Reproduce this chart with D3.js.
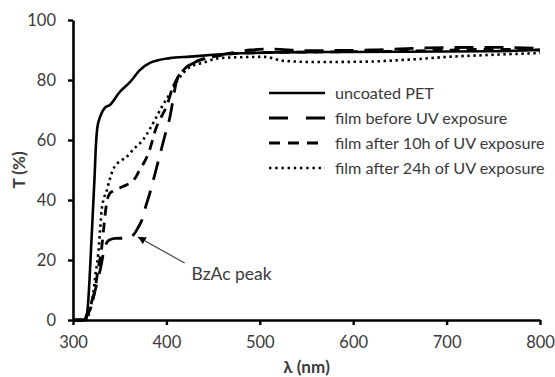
<!DOCTYPE html>
<html>
<head>
<meta charset="utf-8">
<script src="https://cdn.jsdelivr.net/npm/d3@7"></script>
<style>
  body { margin: 0; background: #fff; }
  svg text { font-family: Lato, "Open Sans", sans-serif; fill: #3a3a3a; }
</style>
</head>
<body>
<div id="chart"></div>
<script>
// transmission spectra, [wavelength nm, T %]
const uncoatedPET = [[300,0],[314,0],[316,5],[320,28],[323,47],[324.5,58],[326,64],[329,67.7],[334,70.7],
  [339.5,71.7],[350,76],[361,79.3],[371.6,83.3],[382.3,85.7],[403.6,87.3],[425,87.8],[480,88.9],
  [550,89.3],[650,89.4],[750,89.6],[800,90]];
const filmBefore = [[300,0],[312,0],[316,3],[322,8],[327,14],[330,18],[333,23],[338,26.5],[345,27.2],
  [358,27.3],[365,28.5],[370,31],[374,33.5],[378,38],[382,42],[388,49],[393,55],[398,61],[404,68],
  [408,75],[411,80],[416,82.5],[423,84.5],[435,86.5],[450,88],[470,89],[490,90],[510,90.3],
  [550,89.8],[620,90],[680,90.7],[750,90.9],[800,90.5]];
const film10h = [[300,0],[313,0],[316,2],[320,5],[324,11],[326.7,16.7],[330.7,24],[333,31],[336,39],
  [339,42],[343,43],[350,44],[357,45],[363,46],[368,48],[372,50.5],[377,53],[382,56.7],[389,64],
  [395,68],[400,71],[407,77.7],[414,81.5],[421.5,84.3],[440,87],[460,88.3],[480,89],[550,89.3],
  [650,89.6],[750,90.2],[800,90]];
const film24h = [[300,0],[314,0],[317,2],[320,6],[321.7,9],[324,15],[327,22],[329,30],[330.7,36.7],
  [333,40.5],[336,43],[339,46.5],[342.7,50],[347,52],[352,53.3],[357,54.3],[365,57],[374.8,60],
  [382,63.5],[389.4,67.7],[395,71],[401.5,74.3],[407,77],[412.2,80],[418,82.3],[425,84.3],
  [438.9,85.7],[457,87.3],[480,87.6],[505,87.7],[525,86.4],[560,86],[610,86.1],[660,86.8],
  [706,87.8],[750,88.4],[800,89]];

const seriesNames = ["uncoated PET", "film before UV exposure", "film after 10h of UV exposure", "film after 24h of UV exposure"];
const xTicks = [300, 400, 500, 600, 700, 800];
const yTicks = [0, 20, 40, 60, 80, 100];
// annotation: arrow tip, arrow tail, label
const peakTip = [369.5, 27.7];
const peakTail = [419.5, 19];
const peakLabel = "BzAc peak";

const width = 555, height = 377;
const margin = {top: 20, right: 15, bottom: 57, left: 73};

const svg = d3.select("#chart").append("svg")
    .attr("width", width)
    .attr("height", height);

const x = d3.scaleLinear().domain([300, 800]).range([margin.left, width - margin.right]);
const y = d3.scaleLinear().domain([0, 100]).range([height - margin.bottom, margin.top]);

const styles = [
  {data: uncoatedPET, dash: null, w: 2.6},
  {data: filmBefore, dash: "19,11", w: 2.8},
  {data: film10h, dash: "10,7", w: 2.8},
  {data: film24h, dash: "2.4,3.6", w: 2.6}
];

const line = d3.line()
    .x(d => x(d[0]))
    .y(d => y(d[1]))
    .curve(d3.curveMonotoneX);

svg.selectAll("path.series")
  .data(styles)
  .enter()
  .append("path")
    .attr("class", "series")
    .attr("d", d => line(d.data))
    .attr("fill", "none")
    .attr("stroke", "#000")
    .attr("stroke-width", d => d.w)
    .attr("stroke-dasharray", d => d.dash);

// axes
const xAxis = svg.append("g")
    .attr("transform", `translate(0,${y(0)})`)
    .call(d3.axisBottom(x).tickValues(xTicks).tickSize(5).tickPadding(11).tickSizeOuter(0));
const yAxis = svg.append("g")
    .attr("transform", `translate(${x(300)},0)`)
    .call(d3.axisLeft(y).tickValues(yTicks).tickSize(5).tickPadding(12).tickSizeOuter(0));

[xAxis, yAxis].forEach(g => {
  g.select(".domain").attr("stroke", "#000").attr("stroke-width", 2.6);
  g.selectAll(".tick line").attr("stroke", "#000").attr("stroke-width", 2.4);
  g.selectAll(".tick text").attr("font-size", 16.5).attr("fill", "#3a3a3a")
    .style("font-family", "Lato, 'Open Sans', sans-serif");
});

svg.append("text")
    .attr("x", (x(300) + x(800)) / 2)
    .attr("y", 373)
    .attr("text-anchor", "middle")
    .attr("font-size", 17)
    .attr("font-weight", "bold")
    .text("λ (nm)");

svg.append("text")
    .attr("transform", `translate(25,${(y(0) + y(100)) / 2}) rotate(-90)`)
    .attr("text-anchor", "middle")
    .attr("font-size", 17)
    .attr("font-weight", "bold")
    .text("T (%)");

// legend
const legend = svg.append("g").attr("transform", "translate(269,93)");
const rows = legend.selectAll("g")
  .data(styles)
  .enter()
  .append("g")
    .attr("transform", (d, i) => `translate(0,${i * 25})`);
rows.append("line")
    .attr("x1", 0).attr("x2", 56)
    .attr("stroke", "#000")
    .attr("stroke-width", d => d.w)
    .attr("stroke-dasharray", (d, i) => ["", "19,18", "11,8", "2.4,3.8"][i]);
rows.append("text")
    .attr("x", 66)
    .attr("y", 6)
    .attr("font-size", 16.2)
    .text((d, i) => seriesNames[i]);

// BzAc peak annotation
svg.append("defs").append("marker")
    .attr("id", "arrow")
    .attr("viewBox", "0 0 10 10")
    .attr("refX", 10).attr("refY", 5)
    .attr("markerWidth", 8).attr("markerHeight", 8)
    .attr("markerUnits", "userSpaceOnUse")
    .attr("orient", "auto")
  .append("path")
    .attr("d", "M0,0 L10,5 L0,10 z")
    .attr("fill", "#000");

svg.append("line")
    .attr("x1", x(peakTail[0])).attr("y1", y(peakTail[1]))
    .attr("x2", x(peakTip[0])).attr("y2", y(peakTip[1]))
    .attr("stroke", "#444")
    .attr("stroke-width", 1.2)
    .attr("marker-end", "url(#arrow)");

svg.append("text")
    .attr("x", x(peakTail[0]) + 7)
    .attr("y", y(peakTail[1]) + 17)
    .attr("font-size", 17.5)
    .text(peakLabel);
</script>
</body>
</html>
